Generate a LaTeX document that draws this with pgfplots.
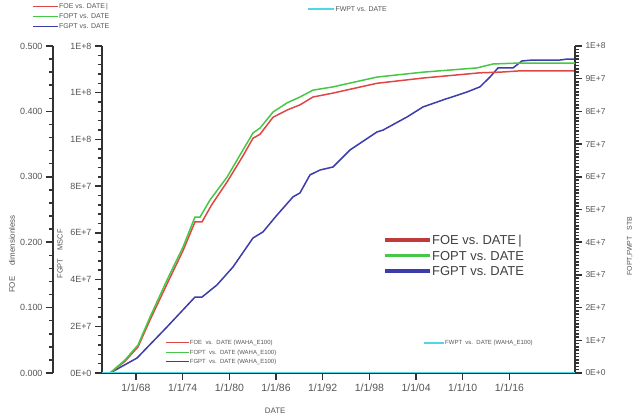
\documentclass[border=0pt]{standalone}
\usepackage{pgfplots}
\pgfplotsset{compat=1.18}
\usepackage{pgfplotstable}
\usepackage{fontspec}
\setmainfont{Liberation Sans}

\definecolor{foered}{RGB}{225,70,70}
\definecolor{foptgreen}{RGB}{70,200,70}
\definecolor{fgptblue}{RGB}{60,60,170}
\definecolor{fwptcyan}{RGB}{80,215,225}
\definecolor{axisgray}{RGB}{50,50,50}
\definecolor{textgray}{RGB}{85,85,85}

% FOE (dimensionless) vs. date
\pgfplotstableread{
year foe
1964.66 0
1966.59 0.018
1968.26 0.040
1969.80 0.081
1971.98 0.136
1974.04 0.187
1975.58 0.231
1976.48 0.231
1977.77 0.258
1979.70 0.292
1981.75 0.332
1983.04 0.359
1983.94 0.365
1985.61 0.391
1987.41 0.402
1989.08 0.410
1990.75 0.422
1993.32 0.428
1998.98 0.443
2004.89 0.451
2012.21 0.459
2014.79 0.460
2017.36 0.462
2024.43 0.462
}\foetable

% FOPT (STB) vs. date
\pgfplotstableread{
year fopt
1964.66 0
1966.59 3.98e6
1968.26 8.56e6
1969.80 1.71e7
1971.98 2.84e7
1974.04 3.85e7
1975.58 4.77e7
1976.23 4.77e7
1977.51 5.29e7
1979.70 5.99e7
1981.75 6.82e7
1983.04 7.34e7
1983.94 7.49e7
1985.61 7.98e7
1987.41 8.26e7
1989.08 8.44e7
1990.75 8.65e7
1993.32 8.75e7
1998.98 9.05e7
2004.89 9.20e7
2011.83 9.33e7
2013.89 9.45e7
2017.36 9.48e7
2024.43 9.48e7
}\fopttable

% FGPT (MSCF) vs. date
\pgfplotstableread{
year fgpt
1964.66 0
1968.13 6.4e6
1971.98 1.97e7
1975.58 3.25e7
1976.48 3.25e7
1978.41 3.77e7
1980.47 4.54e7
1983.04 5.78e7
1984.32 6.04e7
1986.12 6.76e7
1988.18 7.54e7
1989.08 7.71e7
1990.36 8.48e7
1991.65 8.69e7
1993.32 8.82e7
1995.51 9.55e7
1998.98 1.032e8
1999.75 1.040e8
2002.83 1.096e8
2004.89 1.139e8
2007.46 1.169e8
2010.54 1.203e8
2012.21 1.225e8
2013.50 1.267e8
2014.53 1.306e8
2016.46 1.306e8
2017.61 1.336e8
2019.03 1.340e8
2022.50 1.340e8
2023.40 1.344e8
2024.43 1.344e8
}\fgpttable

% FWPT (STB) vs. date
\pgfplotstableread{
year fwpt
1963.63 0
2024.43 0
}\fwpttable

\pgfplotsset{
  /pgfplots/legendlen/.initial=25bp,
  every axis/.append style={
    scale only axis, width=473bp, height=327bp,
    xmin=1963.63, xmax=2024.43,
    axis line style={axisgray, line width=1.5bp},
    tick label style={textgray},
    label style={textgray, font=\fontsize{7.5}{8}\selectfont},
    scaled y ticks=false,
    /pgf/number format/assume math mode=true,
  },
  % ruler style shared by the drawn axes
  ruler/.style={
    tick align=outside,
    major tick length=7bp, minor tick length=4bp,
    tick style={axisgray, line width=1.5bp},
  },
  legendbox/.style={
    hide axis, ymin=0, ymax=1,
    legend cell align=left,
    legend image code/.code={\draw[##1] (0bp,0bp) -- (\pgfkeysvalueof{/pgfplots/legendlen},0bp);},
  },
}

\begin{document}
\begin{tikzpicture}
\path[use as bounding box] (0bp,0bp) rectangle (635bp,418bp);

% FOE ruler (outer left axis)
\begin{axis}[at={(53bp,45bp)}, anchor=south west, ruler,
  width=10bp, xmin=0, xmax=1, ymin=0, ymax=0.5,
  axis y line*=left, axis x line*=bottom, x axis line style={draw=none}, xtick=\empty,
  ytick={0,0.1,0.2,0.3,0.4,0.5},
  minor y tick num=4,
  yticklabel={\pgfmathprintnumber[fixed,fixed zerofill,precision=3]{\tick}},
  yticklabel style={font=\fontsize{9}{10}\selectfont},
  ylabel={FOE\hspace{11bp}dimensionless},
  ylabel style={at={(axis description cs:-4.1,0.364)}, anchor=center, font=\fontsize{8}{9}\selectfont},
]
\addplot[draw=none, forget plot] coordinates {(0,0) (1,0.5)};
\end{axis}

% FGPT axis (inner left) with the date axis
\begin{axis}[at={(102bp,45bp)}, anchor=south west, ruler,
  ymin=0, ymax=1.4e8,
  axis x line*=bottom, axis y line*=left,
  xtick={1968,1974,1980,1986,1992,1998,2004,2010,2016},
  xticklabels={1/1/68,1/1/74,1/1/80,1/1/86,1/1/92,1/1/98,1/1/04,1/1/10,1/1/16},
  xticklabel style={font=\fontsize{10.5}{11}\selectfont},
  ytick={0,2e7,4e7,6e7,8e7,1e8,1.2e8,1.4e8},
  yticklabels={0E+0,2E+7,4E+7,6E+7,8E+7,1E+8,1E+8,1E+8},
  yticklabel style={font=\fontsize{9}{10}\selectfont},
  minor y tick num=4,
  xlabel={DATE},
  xlabel style={at={(axis description cs:0.366,-0.116)}, anchor=center, font=\fontsize{8}{9}\selectfont},
  ylabel={FGPT\hspace{8bp}MSCF},
  ylabel style={at={(axis description cs:-0.0888,0.364)}, anchor=center, font=\fontsize{7.5}{8}\selectfont},
]
\addplot[fgptblue, line width=1.5bp] table[x=year, y=fgpt] {\fgpttable};
\end{axis}

% FOE data
\begin{axis}[at={(102bp,45bp)}, anchor=south west, hide axis, ymin=0, ymax=0.5]
\addplot[foered, line width=1.5bp] table[x=year, y=foe] {\foetable};
\end{axis}

% FOPT / FWPT axis (right)
\begin{axis}[at={(102bp,45bp)}, anchor=south west, ruler,
  ymin=0, ymax=1e8,
  axis y line*=right, axis x line=none, xtick=\empty,
  ytick={0,1e7,2e7,3e7,4e7,5e7,6e7,7e7,8e7,9e7,1e8},
  yticklabels={0E+0,1E+7,2E+7,3E+7,4E+7,5E+7,6E+7,7E+7,8E+7,9E+7,1E+8},
  yticklabel style={font=\fontsize{8.5}{9}\selectfont},
  minor y tick num=9,
  ylabel={FOPT,FWPT\hspace{6bp}STB},
  ylabel style={at={(axis description cs:1.116,0.388)}, anchor=center, font=\fontsize{7}{8}\selectfont},
]
\addplot[foptgreen, line width=1.5bp] table[x=year, y=fopt] {\fopttable};
\addplot[fwptcyan, line width=2.2bp] table[x=year, y=fwpt] {\fwpttable};
\end{axis}

% legend above the plot, left
\begin{axis}[at={(102bp,45bp)}, anchor=south west, legendbox, legendlen=25bp,
  legend style={at={(-0.148,1.133)}, anchor=north west, draw=none, fill=none,
    inner sep=0pt, row sep=2.5bp,
    font=\fontsize{7}{7}\selectfont,
    nodes={text=textgray, inner sep=0.5bp, text height=5.5bp, text depth=1bp}},
]
\addlegendimage{foered, line width=1.4bp}\addlegendentry{FOE vs. DATE\,|}
\addlegendimage{foptgreen, line width=1.4bp}\addlegendentry{FOPT vs. DATE}
\addlegendimage{fgptblue, line width=1.4bp}\addlegendentry{FGPT vs. DATE}
\end{axis}

% legend above the plot, middle
\begin{axis}[at={(102bp,45bp)}, anchor=south west, legendbox, legendlen=26bp,
  legend style={at={(0.4334,1.124)}, anchor=north west, draw=none, fill=none,
    inner sep=0pt, font=\fontsize{7}{7}\selectfont,
    nodes={text=textgray, inner sep=0.5bp, text height=5.5bp, text depth=1bp}},
]
\addlegendimage{fwptcyan, line width=1.8bp}\addlegendentry{FWPT vs. DATE}
\end{axis}

% large legend inside the plot
\begin{axis}[at={(102bp,45bp)}, anchor=south west, legendbox, legendlen=45bp,
  legend style={at={(0.594,0.4235)}, anchor=north west, draw=none, fill=white,
    inner sep=0pt, row sep=4.5bp,
    font=\fontsize{13}{13}\selectfont,
    nodes={text=black!75, inner sep=0.5bp, text height=9.5bp, text depth=0.5bp}},
]
\addlegendimage{foered!85!black, line width=3.5bp}\addlegendentry{FOE\ vs.\ DATE\,|}
\addlegendimage{foptgreen, line width=3.5bp}\addlegendentry{FOPT\ vs.\ DATE}
\addlegendimage{fgptblue, line width=3.5bp}\addlegendentry{FGPT\ vs.\ DATE}
\end{axis}

% run legend, bottom left
\begin{axis}[at={(102bp,45bp)}, anchor=south west, legendbox, legendlen=23bp,
  legend style={at={(0.1332,0.1025)}, anchor=north west, draw=none, fill=none,
    inner sep=0pt, row sep=3.2bp,
    font=\fontsize{6}{6}\selectfont,
    nodes={text=textgray, inner sep=0.5bp, text height=4.5bp, text depth=0.8bp}},
]
\addlegendimage{foered, line width=1.2bp}\addlegendentry{FOE\ \ vs.\ \ DATE (WAHA\_E100)}
\addlegendimage{foptgreen, line width=1.2bp}\addlegendentry{FOPT\ \ vs.\ \ DATE (WAHA\_E100)}
\addlegendimage{fgptblue, line width=1.2bp}\addlegendentry{FGPT\ \ vs.\ \ DATE (WAHA\_E100)}
\end{axis}

% run legend, bottom right
\begin{axis}[at={(102bp,45bp)}, anchor=south west, legendbox, legendlen=20bp,
  legend style={at={(0.6787,0.1025)}, anchor=north west, draw=none, fill=none,
    inner sep=0pt, font=\fontsize{6}{6}\selectfont,
    nodes={text=textgray, inner sep=0.5bp, text height=4.5bp, text depth=0.8bp}},
]
\addlegendimage{fwptcyan, line width=1.5bp}\addlegendentry{FWPT\ \ vs.\ \ DATE (WAHA\_E100)}
\end{axis}

\end{tikzpicture}
\end{document}
